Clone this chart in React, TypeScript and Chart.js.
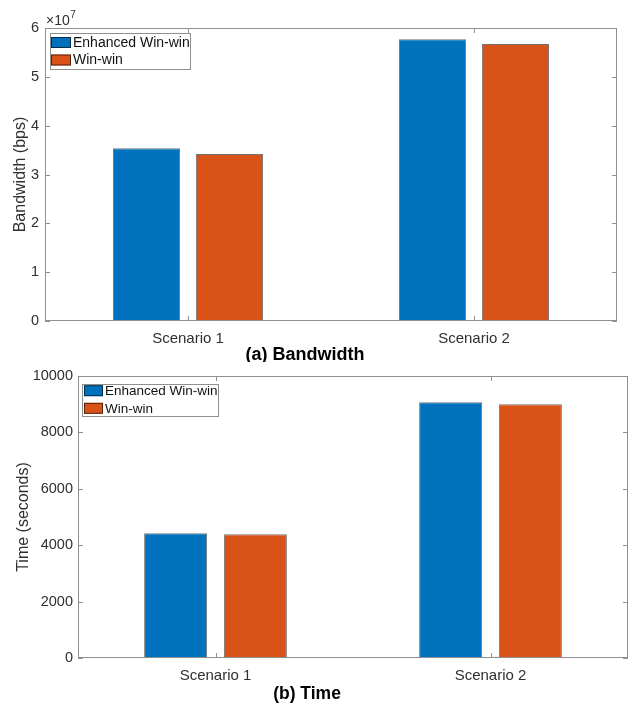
import React, { useEffect, useRef } from "react";
import { Chart, registerables } from "chart.js";

Chart.register(...registerables);

// ---------- data ----------
const categories = ["Scenario 1", "Scenario 2"];
const seriesNames = ["Enhanced Win-win", "Win-win"];
const seriesColors = ["#0072BD", "#D95319"];

const bandwidthEnhanced = [3.54e7, 5.77e7];
const bandwidthWinWin = [3.42e7, 5.67e7];
const bandwidthTicks = [0, 1e7, 2e7, 3e7, 4e7, 5e7, 6e7];
const bandwidthExponent = 7;

const timeEnhanced = [4420, 9070];
const timeWinWin = [4390, 9000];
const timeTicks = [0, 2000, 4000, 6000, 8000, 10000];

const captions = ["(a) Bandwidth", "(b) Time"];
const yTitles = ["Bandwidth (bps)", "Time (seconds)"];

const FONT = "Arial, 'Liberation Sans', Helvetica, sans-serif";
const AXIS_COLOR = "#8f8f8f";
const TEXT_COLOR = "#303030";

// ---------- plugins ----------
const framePlugin = {
  id: "frame",
  afterDatasetsDraw(chart: any, _args: any, opts: any) {
    const { ctx, chartArea: a, scales } = chart;
    const L = opts.tickLength ?? 5;
    ctx.save();
    ctx.strokeStyle = AXIS_COLOR;
    ctx.lineWidth = 1;
    ctx.strokeRect(a.left + 0.5, a.top + 0.5, a.right - a.left - 1, a.bottom - a.top - 1);
    ctx.beginPath();
    scales.y.ticks.forEach((t: any) => {
      const y = Math.round(scales.y.getPixelForValue(t.value)) + 0.5;
      ctx.moveTo(a.left, y);
      ctx.lineTo(a.left + L, y);
      ctx.moveTo(a.right, y);
      ctx.lineTo(a.right - L, y);
    });
    scales.x.ticks.forEach((_t: any, i: number) => {
      const x = Math.round(scales.x.getPixelForValue(i)) + 0.5;
      ctx.moveTo(x, a.bottom);
      ctx.lineTo(x, a.bottom - L);
      ctx.moveTo(x, a.top);
      ctx.lineTo(x, a.top + L);
    });
    ctx.stroke();
    ctx.restore();
  },
};

const boxLegendPlugin = {
  id: "boxLegend",
  afterDraw(chart: any, _args: any, o: any) {
    const { ctx, chartArea: a } = chart;
    const x0 = a.left + o.dx;
    const y0 = a.top + o.dy;
    ctx.save();
    ctx.fillStyle = "#ffffff";
    ctx.fillRect(x0, y0, o.w, o.h);
    ctx.strokeStyle = AXIS_COLOR;
    ctx.lineWidth = 1;
    ctx.strokeRect(x0 + 0.5, y0 + 0.5, o.w, o.h);
    ctx.font = `${o.fontSize}px ${FONT}`;
    ctx.textBaseline = "middle";
    ctx.textAlign = "left";
    chart.data.datasets.forEach((ds: any, i: number) => {
      const cy = y0 + o.row0 + i * o.rowGap;
      ctx.fillStyle = ds.backgroundColor;
      ctx.fillRect(x0 + o.swX, cy - o.swH / 2, o.swW, o.swH);
      ctx.strokeStyle = "rgba(0,0,0,0.6)";
      ctx.strokeRect(x0 + o.swX + 0.5, cy - o.swH / 2 + 0.5, o.swW - 1, o.swH - 1);
      ctx.fillStyle = "#111";
      ctx.fillText(ds.label, x0 + o.textX, cy + 0.5);
    });
    ctx.restore();
  },
};

const exponentPlugin = {
  id: "exponent",
  afterDraw(chart: any, _args: any, o: any) {
    if (!o || o.exp === undefined) return;
    const { ctx, chartArea: a } = chart;
    ctx.save();
    ctx.fillStyle = TEXT_COLOR;
    ctx.textBaseline = "alphabetic";
    ctx.textAlign = "left";
    ctx.font = `14px ${FONT}`;
    const base = "\u00d710";
    ctx.fillText(base, a.left + 1, a.top - 3);
    const w = ctx.measureText(base).width;
    ctx.font = `10px ${FONT}`;
    ctx.fillText(String(o.exp), a.left + 1 + w + 0.5, a.top - 10);
    ctx.restore();
  },
};

const captionPlugin = {
  id: "caption",
  afterDraw(chart: any, _args: any, o: any) {
    const { ctx } = chart;
    ctx.save();
    ctx.fillStyle = "#000";
    ctx.font = `bold ${o.fontSize}px ${FONT}`;
    ctx.textAlign = "center";
    ctx.textBaseline = "middle";
    ctx.fillText(o.text, o.x, o.y);
    ctx.restore();
  },
};

// ---------- config builder ----------
function buildConfig(p: {
  a: number[];
  b: number[];
  ticks: number[];
  tickFmt: (v: number) => string;
  yTitle: string;
  yTitlePad: number;
  yWidth: number;
  yTickPad: number;
  xHeight: number;
  padTop: number;
  padRight: number;
  barPct: number;
  legend: any;
  caption: any;
  exponent?: number;
}) {
  return {
    type: "bar" as const,
    data: {
      labels: categories,
      datasets: [
        {
          label: seriesNames[0],
          data: p.a,
          backgroundColor: seriesColors[0],
          borderColor: "rgba(0,0,0,0.55)",
          borderWidth: 1,
          borderSkipped: false,
        },
        {
          label: seriesNames[1],
          data: p.b,
          backgroundColor: seriesColors[1],
          borderColor: "rgba(0,0,0,0.55)",
          borderWidth: 1,
          borderSkipped: false,
        },
      ],
    },
    plugins: [framePlugin, boxLegendPlugin, exponentPlugin, captionPlugin],
    options: {
      responsive: false,
      animation: false as const,
      devicePixelRatio: 1,
      datasets: {
        bar: { categoryPercentage: 0.58, barPercentage: p.barPct },
      },
      layout: { padding: { top: p.padTop, right: p.padRight, left: 0, bottom: 0 } },
      plugins: {
        legend: { display: false },
        tooltip: { enabled: false },
        title: { display: false },
        frame: { tickLength: 5 },
        boxLegend: p.legend,
        caption: p.caption,
        exponent: { exp: p.exponent },
      },
      scales: {
        x: {
          type: "category" as const,
          offset: true,
          grid: { display: false, drawTicks: false, tickLength: 0 },
          border: { display: false },
          ticks: {
            color: TEXT_COLOR,
            font: { family: FONT, size: 15 },
            padding: 9,
            maxRotation: 0,
          },
          afterFit: (s: any) => {
            s.height = p.xHeight;
          },
        },
        y: {
          type: "linear" as const,
          min: p.ticks[0],
          max: p.ticks[p.ticks.length - 1],
          grid: { display: false, drawTicks: false, tickLength: 0 },
          border: { display: false },
          ticks: {
            color: TEXT_COLOR,
            font: { family: FONT, size: 14.5 },
            padding: p.yTickPad,
            callback: (v: any) => p.tickFmt(Number(v)),
          },
          afterBuildTicks: (s: any) => {
            s.ticks = p.ticks.map((v) => ({ value: v }));
          },
          afterFit: (s: any) => {
            s.width = p.yWidth;
          },
          title: {
            display: true,
            text: p.yTitle,
            color: TEXT_COLOR,
            font: { family: FONT, size: 16 },
            padding: { top: p.yTitlePad, bottom: 0 },
          },
        },
      },
    },
  };
}

function ChartCanvas({ config, width, height }: { config: any; width: number; height: number }) {
  const ref = useRef<HTMLCanvasElement | null>(null);
  useEffect(() => {
    if (!ref.current) return;
    const chart = new Chart(ref.current, config);
    return () => chart.destroy();
  }, [config]);
  return <canvas ref={ref} width={width} height={height} style={{ display: "block", width, height }} />;
}

const topConfig = buildConfig({
  a: bandwidthEnhanced,
  b: bandwidthWinWin,
  ticks: bandwidthTicks,
  tickFmt: (v) => String(Math.round(v / Math.pow(10, bandwidthExponent))),
  yTitle: yTitles[0],
  yTitlePad: 11,
  yWidth: 45,
  yTickPad: 6,
  xHeight: 41,
  padTop: 28,
  padRight: 16,
  barPct: 0.81,
  legend: { dx: 5, dy: 5, w: 140, h: 36, row0: 9.5, rowGap: 17.5, swX: 1, swW: 20, swH: 11, textX: 23, fontSize: 14 },
  caption: { text: captions[0], x: 305, y: 355, fontSize: 18 },
  exponent: bandwidthExponent,
});

const bottomConfig = buildConfig({
  a: timeEnhanced,
  b: timeWinWin,
  ticks: timeTicks,
  tickFmt: (v) => String(v),
  yTitle: yTitles[1],
  yTitlePad: 13.5,
  yWidth: 78,
  yTickPad: 5,
  xHeight: 47,
  padTop: 14,
  padRight: 5,
  barPct: 0.79,
  legend: { dx: 4, dy: 8, w: 136, h: 32, row0: 6.7, rowGap: 17.6, swX: 2, swW: 19, swH: 11, textX: 23, fontSize: 13.5 },
  caption: { text: captions[1], x: 307, y: 332, fontSize: 17.5 },
});

export default function App() {
  return (
    <div style={{ position: "absolute", left: 0, top: 0, width: 633, height: 705, background: "#fff" }}>
      <ChartCanvas config={topConfig} width={633} height={362} />
      <ChartCanvas config={bottomConfig} width={633} height={343} />
    </div>
  );
}
